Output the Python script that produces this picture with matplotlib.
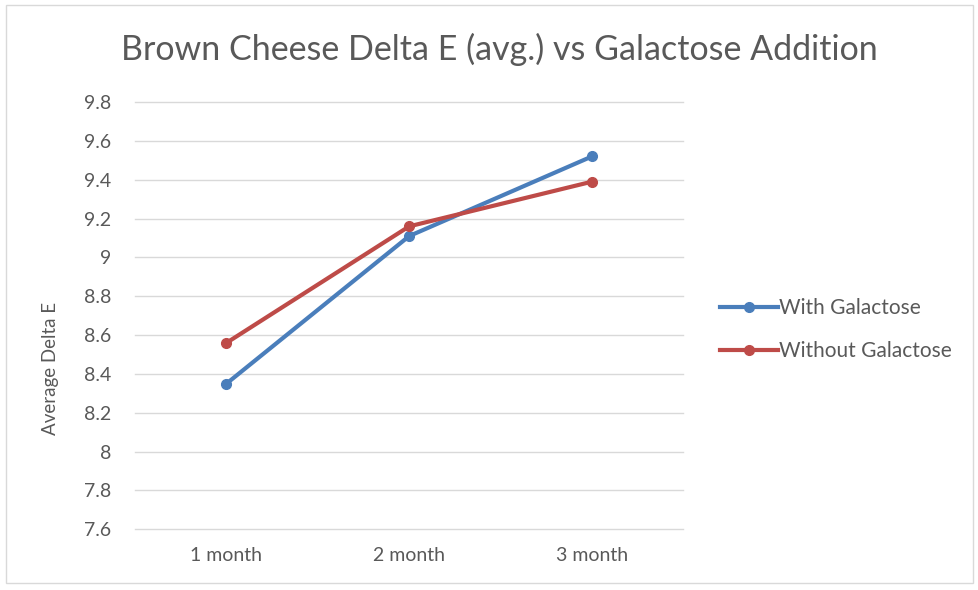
import matplotlib
matplotlib.use("Agg")
import matplotlib.pyplot as plt
from matplotlib.patches import Rectangle

categories = ["1 month", "2 month", "3 month"]
with_galactose = [8.35, 9.11, 9.52]
without_galactose = [8.56, 9.16, 9.39]
yticks = [7.6, 7.8, 8.0, 8.2, 8.4, 8.6, 8.8, 9.0, 9.2, 9.4, 9.6, 9.8]
ytick_labels = ["7.6", "7.8", "8", "8.2", "8.4", "8.6", "8.8", "9", "9.2", "9.4", "9.6", "9.8"]

plt.rcParams['font.family'] = ['Lato', 'DejaVu Sans']
txt = '#595959'

fig = plt.figure(figsize=(9.79, 5.90), dpi=100)
fig.patches.append(Rectangle((0.006, 0.012), 0.988, 0.98, transform=fig.transFigure,
                             fill=False, edgecolor='#d9d9d9', linewidth=1))
ax = fig.add_axes([0.138, 0.103, 0.560, 0.724])

x = range(len(categories))
ax.plot(x, with_galactose, color='#4A7EBB', lw=3, marker='o', ms=7, label='With Galactose', zorder=3)
ax.plot(x, without_galactose, color='#BE4B48', lw=3, marker='o', ms=7, label='Without Galactose', zorder=3)

ax.set_xlim(-0.5, 2.5)
ax.set_ylim(7.6, 9.8)
ax.set_yticks(yticks)
ax.set_yticklabels(ytick_labels)
ax.set_xticks(list(x))
ax.set_xticklabels(categories)
for yv in yticks:
    ax.axhline(yv, color='#d9d9d9', lw=1, zorder=0, clip_on=False)
for s in ax.spines.values():
    s.set_visible(False)
ax.tick_params(length=0, labelsize=14, colors=txt)
ax.tick_params(axis='y', pad=17)
ax.tick_params(axis='x', pad=13)

fig.text(0.510, 0.917, "Brown Cheese Delta E (avg.) vs Galactose Addition", ha='center', va='center',
         fontsize=24.5, color=txt)
fig.text(0.052, 0.375, "Average Delta E", rotation=90, ha='center', va='center', fontsize=13.5, color=txt)

fig.legend(loc='center left', bbox_to_anchor=(0.735, 0.441), frameon=False, fontsize=15,
           labelcolor=txt, handlelength=2.8, handletextpad=0.05, labelspacing=1.1,
           borderaxespad=0, borderpad=0)

fig.savefig("out.png", dpi=100, facecolor='white')
